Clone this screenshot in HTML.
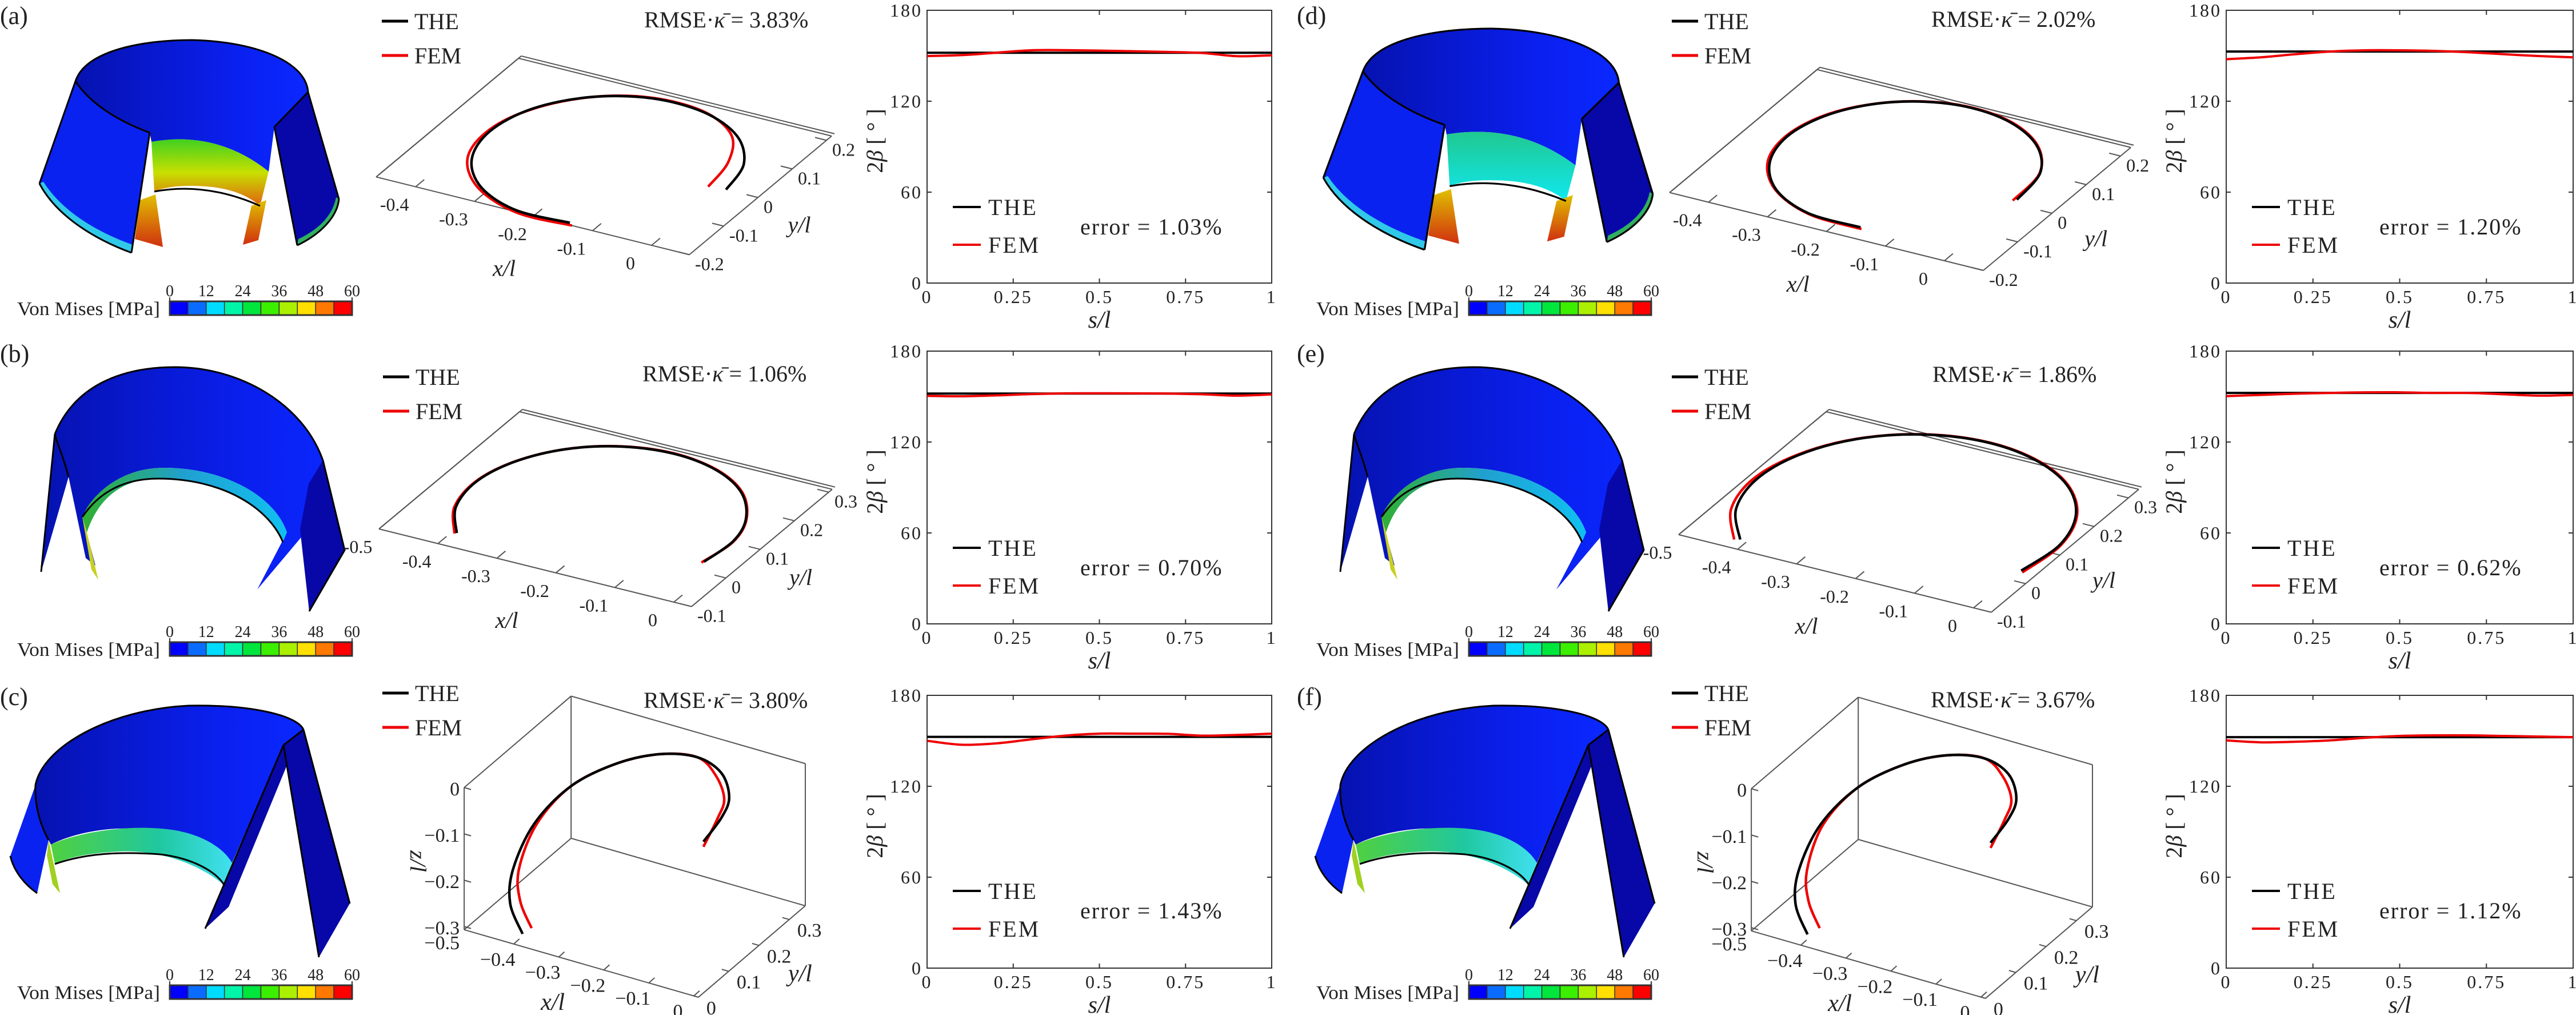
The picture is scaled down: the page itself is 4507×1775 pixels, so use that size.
<!DOCTYPE html>
<html><head><meta charset="utf-8"><title>Cylinder deformation comparison</title>
<style>
html,body{margin:0;padding:0;background:#fff;}
svg{display:block;}
svg text{font-family:"Liberation Serif","Times New Roman",serif;fill:#222;}
</style></head>
<body>
<svg id="fig" xmlns="http://www.w3.org/2000/svg" width="4507" height="1775" viewBox="0 0 4507 1775" font-family="Liberation Serif, serif">
<defs>
<linearGradient id="gA" x1="0" y1="0" x2="0" y2="1"><stop offset="0" stop-color="#40d020"/><stop offset="0.5" stop-color="#c8e000"/><stop offset="1" stop-color="#e06010"/></linearGradient>
<linearGradient id="gD" x1="0" y1="0" x2="0" y2="1"><stop offset="0" stop-color="#20c890"/><stop offset="1" stop-color="#10e8f0"/></linearGradient>
<linearGradient id="gB" x1="0" y1="0" x2="1" y2="0"><stop offset="0" stop-color="#30b030"/><stop offset="0.5" stop-color="#20a0d0"/><stop offset="1" stop-color="#10c0f0"/></linearGradient>
<linearGradient id="gC" x1="0" y1="0" x2="1" y2="0"><stop offset="0" stop-color="#50d040"/><stop offset="0.6" stop-color="#20c8a0"/><stop offset="1" stop-color="#40e0f0"/></linearGradient>
<linearGradient id="gO" x1="0" y1="0" x2="0" y2="1"><stop offset="0" stop-color="#e0c000"/><stop offset="1" stop-color="#d03010"/></linearGradient>
<linearGradient id="gBlue" x1="0" y1="0" x2="1" y2="0"><stop offset="0" stop-color="#0612b0"/><stop offset="0.7" stop-color="#0a20f0"/><stop offset="1" stop-color="#0a28ff"/></linearGradient>
</defs>
</svg>
<script>
// ---------------- data ----------------
const panelIds = ['a','b','c','d','e','f'];
const rmseLabels = ['3.83%','1.06%','3.80%','2.02%','1.86%','3.67%'];
const errorLabels = ['1.03%','0.70%','1.43%','1.20%','0.62%','1.12%'];
const sGrid = [0,0.1,0.2,0.3,0.4,0.5,0.6,0.7,0.8,0.9,1];
const theBeta = [152,152,152.6,152.8,152.4,152.4];
const femBetaA = [149.8,150.4,152.0,153.6,153.7,153.4,153.0,152.5,151.8,149.7,150.3];
const femBetaB = [150.5,150.2,150.8,151.6,152.1,152.2,152.1,152.0,151.5,150.6,151.4];
const femBetaC = [150.0,147.4,148.3,150.9,153.4,154.7,154.7,154.6,153.4,153.9,154.7];
const femBetaD = [147.7,149.0,151.0,152.8,153.6,153.6,153.2,152.3,151.0,149.8,149.0];
const femBetaE = [150.3,151.1,151.9,152.4,152.8,152.8,152.4,152.4,151.5,150.6,151.1];
const femBetaF = [150.3,149.0,149.4,150.3,152.0,153.2,153.6,153.6,153.2,152.8,152.4];
const sTicks = [0,0.25,0.5,0.75,1];
const sTickLabels = ['0','0.25','0.5','0.75','1'];
const betaTicks = [0,60,120,180];
const stressTicks = [0,12,24,36,48,60];
const stressColors = ['#0000ff','#0a6cff','#00dcff','#00f5a8','#00e63c','#3cee00','#aaf000','#ffe000','#ff7800','#ff0000'];
// 3D centre-lines (x/l, y/l[, z/l])
const theXA = [-0.142,-0.232,-0.313,-0.370,-0.390,-0.370,-0.313,-0.232,-0.142,-0.061,-0.007,0.010];
const theYA = [-0.194,-0.196,-0.158,-0.088,0,0.088,0.158,0.196,0.194,0.153,0.081,0];
const femXA = [-0.135,-0.228,-0.318,-0.378,-0.393,-0.368,-0.310,-0.230,-0.140,-0.068,-0.030,-0.018];
const femYA = [-0.200,-0.202,-0.160,-0.086,0.004,0.090,0.160,0.198,0.195,0.150,0.075,-0.004];
const theXB = [-0.392,-0.434,-0.447,-0.428,-0.381,-0.313,-0.232,-0.151,-0.083,-0.036,-0.018,-0.024];
const theYB = [-0.059,0.011,0.093,0.172,0.240,0.284,0.300,0.284,0.240,0.172,0.104,0.029];
const femXB = [-0.394,-0.436,-0.448,-0.428,-0.380,-0.312,-0.232,-0.150,-0.082,-0.035,-0.017,-0.026];
const femYB = [-0.062,0.010,0.093,0.173,0.241,0.285,0.301,0.285,0.241,0.172,0.102,0.025];
const theXC = [-0.147,-0.107,-0.083,-0.087,-0.127,-0.189,-0.264,-0.346,-0.408,-0.435,-0.428,-0.387];
const theYC = [0.25,0.25,0.24,0.22,0.20,0.17,0.14,0.11,0.08,0.05,0.03,0.01];
const theZC = [-0.155,-0.092,-0.036,0.027,0.061,0.067,0.043,-0.012,-0.094,-0.183,-0.244,-0.287];
const femXC = [-0.147,-0.116,-0.094,-0.100,-0.127,-0.189,-0.264,-0.346,-0.402,-0.422,-0.406,-0.367];
const femYC = [0.25,0.25,0.24,0.22,0.20,0.17,0.14,0.11,0.08,0.05,0.03,0.01];
const femZC = [-0.166,-0.097,-0.042,0.019,0.061,0.067,0.043,-0.012,-0.092,-0.179,-0.232,-0.269];
const theXD = [-0.162,-0.252,-0.331,-0.384,-0.400,-0.375,-0.315,-0.231,-0.142,-0.064,-0.013,-0.001];
const theYD = [-0.166,-0.163,-0.121,-0.048,0.040,0.127,0.194,0.228,0.221,0.176,0.102,0.013];
const femXD = [-0.158,-0.250,-0.333,-0.388,-0.402,-0.376,-0.314,-0.230,-0.140,-0.062,-0.013,-0.005];
const femYD = [-0.170,-0.165,-0.121,-0.047,0.042,0.128,0.195,0.229,0.222,0.176,0.100,0.008];
const theXE = [-0.412,-0.465,-0.485,-0.468,-0.418,-0.341,-0.248,-0.154,-0.071,-0.012,0.014,0.004];
const theYE = [-0.072,0.007,0.101,0.195,0.276,0.332,0.355,0.341,0.294,0.219,0.127,0.032];
const femXE = [-0.420,-0.472,-0.490,-0.470,-0.418,-0.340,-0.247,-0.153,-0.070,-0.010,0.016,0.008];
const femYE = [-0.076,0.005,0.100,0.195,0.277,0.333,0.356,0.342,0.295,0.219,0.126,0.028];
const theXF = [-0.147,-0.107,-0.083,-0.087,-0.127,-0.189,-0.264,-0.346,-0.410,-0.438,-0.432,-0.392];
const theYF = [0.25,0.25,0.24,0.22,0.20,0.17,0.14,0.11,0.08,0.05,0.03,0.01];
const theZF = [-0.155,-0.092,-0.036,0.027,0.061,0.067,0.043,-0.012,-0.094,-0.183,-0.244,-0.287];
const femXF = [-0.147,-0.116,-0.094,-0.100,-0.127,-0.189,-0.264,-0.346,-0.404,-0.420,-0.403,-0.365];
const femYF = [0.25,0.25,0.24,0.22,0.20,0.17,0.14,0.11,0.08,0.05,0.03,0.01];
const femZF = [-0.166,-0.097,-0.042,0.019,0.061,0.067,0.043,-0.012,-0.092,-0.179,-0.230,-0.266];
const topXTicksA = [-0.4,-0.3,-0.2,-0.1,0];
const topYTicksA = [-0.2,-0.1,0,0.1,0.2];
const topXTicksB = [-0.5,-0.4,-0.3,-0.2,-0.1,0];
const topYTicksB = [-0.1,0,0.1,0.2,0.3];
const iso3dXTicks = [-0.4,-0.3,-0.2,-0.1,0];
const iso3dYTicks = [0,0.1,0.2,0.3];
const iso3dZTicks = [0,-0.1,-0.2,-0.3];

// ---------------- helpers ----------------
const NS = 'http://www.w3.org/2000/svg';
const svg = document.getElementById('fig');
const SERIF = '"Liberation Serif", "Times New Roman", serif';
function add(parent, tag, attrs, name) {
  const el = document.createElementNS(NS, tag);
  for (const k in attrs) el.setAttribute(k, attrs[k]);
  
  
  parent.appendChild(el);
  return el;
}
function txt(parent, x, y, s, size, name, extra) {
  const t = add(parent, 'text', Object.assign({x: x, y: y, 'font-size': size, 'font-family': SERIF}, extra || {}), name);
  t.textContent = s;
  return t;
}
function fmt(v) { return (v < 0 ? '-' : '') + String(Math.abs(v)); }
// smooth path through projected points (Catmull-Rom -> Bezier)
function smoothPath(pts) {
  let d = 'M' + pts[0][0].toFixed(1) + ',' + pts[0][1].toFixed(1);
  for (let k = 0; k < pts.length - 1; k++) {
    const p0 = pts[k-1] || pts[k], p1 = pts[k], p2 = pts[k+1], p3 = pts[k+2] || pts[k+1];
    const c1 = [p1[0] + (p2[0]-p0[0])/6, p1[1] + (p2[1]-p0[1])/6];
    const c2 = [p2[0] - (p3[0]-p1[0])/6, p2[1] - (p3[1]-p1[1])/6];
    d += ' C' + c1[0].toFixed(1) + ',' + c1[1].toFixed(1) + ' ' + c2[0].toFixed(1) + ',' + c2[1].toFixed(1) + ' ' + p2[0].toFixed(1) + ',' + p2[1].toFixed(1);
  }
  return d;
}

const colX = [0, 2273];
const rowY = [0, 596, 1196];

// ---------------- cylinder drawings (decorative FEM renders) ----------------
const cylTemplates = {
  tall: [
    ['M132,142 C150,88 250,70 336,70 C440,72 535,105 539,161 L480,222 L470,300 Q380,228 265,248 L262,232 C215,215 160,185 132,142 Z', 'url(#gBlue)', 'cylinder-inner-back'],
    ['M265,248 Q380,228 470,300 L455,360 Q420,330 360,326 Q300,322 270,335 Z', 'BAND', 'cylinder-inner-band'],
    ['M245,350 L272,340 L285,432 L236,418 Z', 'url(#gO)', 'cylinder-inner-left-strip'],
    ['M440,360 L466,350 L452,420 L425,428 Z', 'url(#gO)', 'cylinder-inner-right-strip'],
    ['M132,142 C160,185 215,215 262,232 L230,442 C170,420 100,380 69,321 Z', '#0a22f0', 'cylinder-left-panel'],
    ['M69,321 C100,380 170,420 230,442 L232,428 C175,408 110,372 76,318 Z', '#30c8e8', 'cylinder-left-edge'],
    ['M539,161 L480,222 L520,429 C560,410 590,380 593,348 Z', '#0808a8', 'cylinder-right-panel'],
    ['M520,429 C560,410 590,380 593,348 L588,345 C582,378 556,402 522,418 Z', '#30b060', 'cylinder-right-edge']
  ],
  arch: [
    ['M96,163 C130,80 210,46 306,46 C420,46 530,110 565,209 L603,366 L541,473 L530,340 L450,435 L502,335 C480,270 390,222 287,222 C210,222 160,270 144,308 L167,393 L150,380 L120,238 L72,404 Z', 'url(#gBlue)', 'cylinder-arch-body'],
    ['M144,308 C160,270 210,222 287,222 C390,222 480,270 502,335 L495,352 C470,292 390,241 277,241 C210,241 170,280 152,335 Z', 'BAND', 'cylinder-inner-band'],
    ['M540,250 L565,209 L603,366 L541,473 L525,330 Z', '#0808a8', 'cylinder-right-panel'],
    ['M144,308 L152,335 L172,418 L160,400 Z', '#c8d020', 'cylinder-left-leg-edge']
  ],
  wide: [
    ['M62,177 C75,110 190,45 330,38 C440,36 520,55 531,80 L496,107 L406,313 C360,270 280,250 205,253 C150,256 110,270 89,281 L85,273 C60,240 55,210 62,177 Z', 'url(#gBlue)', 'cylinder-inner-back'],
    ['M89,281 C140,258 230,245 300,255 C350,262 390,285 406,313 L393,353 C350,315 280,290 210,293 C150,296 115,305 96,315 Z', 'BAND', 'cylinder-inner-band'],
    ['M62,177 C60,220 75,255 85,273 L65,366 C40,350 20,320 18,301 Z', '#0a22f0', 'cylinder-left-panel'],
    ['M85,273 L105,366 L92,350 L82,300 Z', '#a0d020', 'cylinder-left-leg'],
    ['M496,107 L512,118 L400,390 L359,428 Z', '#0808a8', 'cylinder-front-panel'],
    ['M496,107 L531,80 L612,384 L558,478 Z', '#0808a8', 'cylinder-right-panel']
  ]
};
const cylOutlines = {
  tall: ['M132,142 C150,88 250,70 336,70 C440,72 535,105 539,161', 'M132,142 C160,185 215,215 262,232', 'M480,222 L539,161', 'M262,232 L230,442', 'M480,222 L520,429', 'M270,335 Q360,318 455,360', 'M69,321 C100,380 170,420 230,442', 'M520,429 C560,410 590,380 593,348', 'M132,142 L69,321', 'M539,161 L593,348'],
  arch: ['M96,163 C130,80 210,46 306,46 C420,46 530,110 565,209', 'M144,308 C170,270 210,241 277,241 C390,241 470,292 495,352', 'M96,163 L72,404', 'M565,209 L603,366 L541,473', 'M120,238 C110,200 100,180 96,163'],
  wide: ['M62,177 C75,110 190,45 330,38 C440,36 520,55 531,80', 'M496,107 L531,80', 'M96,315 C150,296 210,293 280,298 C340,305 380,330 393,353', 'M496,107 L359,428', 'M496,107 L558,478', 'M531,80 L612,384', 'M62,177 C60,220 75,255 85,273', 'M18,301 C25,330 45,352 65,366']
};
const cylSpecs = [
  {t:'tall', band:'url(#gA)', tf:''},
  {t:'arch', band:'url(#gB)', tf:''},
  {t:'wide', band:'url(#gC)', tf:''},
  {t:'tall', band:'url(#gD)', tf:'translate(336,0) scale(1.1,1.04) translate(-336,-22)'},
  {t:'arch', band:'url(#gB)', tf:''},
  {t:'wide', band:'url(#gC)', tf:'translate(10,0)'}
];

// ---------------- panel geometry (layout, not data) ----------------
const topViews = {
  a: {O:[1260,329], xlim:[-0.467,0.064], ylim:[-0.2,0.215], xt:topXTicksA, yt:topYTicksA, the:[theXA,theYA], fem:[femXA,femYA]},
  b: {O:[1239,407], xlim:[-0.5,0.03], ylim:[-0.1,0.31], xt:topXTicksB, yt:topYTicksB, the:[theXB,theYB], fem:[femXB,femYB]},
  d: {O:[1249,356], xlim:[-0.466,0.066], ylim:[-0.2,0.23], xt:topXTicksA, yt:topYTicksA, the:[theXD,theYD], fem:[femXD,femYD]},
  e: {O:[1240,417], xlim:[-0.5,0.03], ylim:[-0.1,0.33], xt:topXTicksB, yt:topYTicksB, the:[theXE,theYE], fem:[femXE,femYE]}
};
const isoViews = {
  c: {O:[1214,297], the:[theXC,theYC,theZC], fem:[femXC,femYC,femZC]},
  f: {O:[1193,299], the:[theXF,theYF,theZF], fem:[femXF,femYF,femZF]}
};
const legend3d = {a:[668,37,1127,48], b:[670,63,1124,71], c:[669,16,1126,42], d:[652,37,1106,47], e:[652,63,1108,72], f:[652,16,1105,41]};
const femBetaAll = [femBetaA, femBetaB, femBetaC, femBetaD, femBetaE, femBetaF];

function legendBlock(g, x, y, id) {
  add(g, 'line', {x1:x, y1:y, x2:x+46, y2:y, stroke:'#000', 'stroke-width':5}, 'legend-the-line-'+id);
  txt(g, x+57, y+14, 'THE', 40, 'legend-the-label-'+id);
  add(g, 'line', {x1:x, y1:y+60, x2:x+46, y2:y+60, stroke:'#e00', 'stroke-width':5}, 'legend-fem-line-'+id);
  txt(g, x+57, y+74, 'FEM', 40, 'legend-fem-label-'+id);
}

panelIds.forEach(function(id, i) {
  const col = i < 3 ? 0 : 1;
  const row = i % 3;
  const g = add(svg, 'g', {transform: 'translate(' + colX[col] + ',' + rowY[row] + ')'}, 'panel-' + id);

  txt(g, col === 0 ? 0 : -4, row === 0 ? 42 : 37, '(' + id + ')', 44, 'panel-letter-' + id);

  // cylinder render
  const spec = cylSpecs[i];
  const cg = add(g, 'g', {transform: spec.tf}, 'fem-render-' + id);
  cylTemplates[spec.t].forEach(function(p) {
    add(cg, 'path', {d: p[0], fill: p[1] === 'BAND' ? spec.band : p[1]}, p[2]);
  });
  cylOutlines[spec.t].forEach(function(d) {
    add(cg, 'path', {d: d, fill: 'none', stroke: '#000', 'stroke-width': 3}, 'cylinder-outline');
  });

  // colorbar
  const cb = add(g, 'g', {}, 'colorbar-' + id);
  const cbx0 = 297, cbx1 = 616, cby = 527, cbh = 24;
  const cw = (cbx1 - cbx0) / stressColors.length;
  stressColors.forEach(function(c, k) {
    add(cb, 'rect', {x: cbx0 + k*cw, y: cby, width: cw, height: cbh, fill: c, stroke: '#333', 'stroke-width': 1.5}, 'colorbar-cell');
  });
  add(cb, 'rect', {x: cbx0, y: cby, width: cbx1-cbx0, height: cbh, fill: 'none', stroke: '#333', 'stroke-width': 3}, 'colorbar-frame');
  stressTicks.forEach(function(v) {
    const x = cbx0 + (v/60)*(cbx1-cbx0);
    txt(cb, x, 518, String(v), 28, 'colorbar-tick-label', {'text-anchor':'middle'});
  });
  add(cb, 'line', {x1:cbx0, y1:520, x2:cbx0, y2:cby, stroke:'#333', 'stroke-width':2}, 'colorbar-tick');
  add(cb, 'line', {x1:cbx1, y1:520, x2:cbx1, y2:cby, stroke:'#333', 'stroke-width':2}, 'colorbar-tick');
  txt(cb, 30, 551, 'Von Mises [MPa]', 34, 'colorbar-title', {textLength: 250, lengthAdjust: 'spacingAndGlyphs'});

  // 3D curve plot
  const lg = legend3d[id];
  const pg = add(g, 'g', {}, 'curve-3d-plot-' + id);
  legendBlock(pg, lg[0], lg[1], id);
  const rt = add(pg, 'text', {x: lg[2], y: lg[3], 'font-size': 40, 'font-family': SERIF}, 'rmse-label-' + id);
  rt.innerHTML = 'RMSE·<tspan font-style="italic">κ̄</tspan> = ' + rmseLabels[i];

  if (topViews[id]) {
    const V = topViews[id];
    const ex = [1032, 256], ey = [600, -500];
    const P = function(x, y) { return [V.O[0] + x*ex[0] + y*ey[0], V.O[1] + x*ex[1] + y*ey[1]]; };
    const Lc = P(V.xlim[0], V.ylim[0]), Fc = P(V.xlim[1], V.ylim[0]), Rc = P(V.xlim[1], V.ylim[1]), Kc = P(V.xlim[0], V.ylim[1]);
    const ln = function(a, b, nm, dx, dy) {
      add(pg, 'line', {x1:a[0]+(dx||0), y1:a[1]+(dy||0), x2:b[0]+(dx||0), y2:b[1]+(dy||0), stroke:'#555', 'stroke-width':2}, nm);
    };
    ln(Lc, Fc, 'x-axis-line');
    ln(Fc, Rc, 'y-axis-line');
    ln(Lc, Kc, 'box-back-edge');
    ln(Kc, Rc, 'box-back-edge');
    ln(Lc, Kc, 'box-back-edge-top', 5, -4);
    ln(Kc, Rc, 'box-back-edge-top', 5, -4);
    V.xt.forEach(function(v) {
      const p = P(v, V.ylim[0]);
      add(pg, 'line', {x1:p[0], y1:p[1], x2:p[0]+15, y2:p[1]-12.5, stroke:'#555', 'stroke-width':2}, 'x-tick');
      txt(pg, p[0]-37, p[1]+42, fmt(v), 32, 'x-tick-label', {'text-anchor':'middle'});
    });
    V.yt.forEach(function(v) {
      const p = P(V.xlim[1], v);
      add(pg, 'line', {x1:p[0], y1:p[1], x2:p[0]-20, y2:p[1]-5, stroke:'#555', 'stroke-width':2}, 'y-tick');
      txt(pg, p[0]+10, p[1]+27, fmt(v), 32, 'y-tick-label');
    });
    const mx = [(Lc[0]+Fc[0])/2, (Lc[1]+Fc[1])/2];
    txt(pg, mx[0]-50, mx[1]+105, 'x/l', 40, 'x-axis-title', {'font-style':'italic', 'text-anchor':'middle'});
    const my = [(Fc[0]+Rc[0])/2, (Fc[1]+Rc[1])/2];
    txt(pg, my[0]+68, my[1]+65, 'y/l', 40, 'y-axis-title', {'font-style':'italic', 'text-anchor':'middle'});
    [['fem', '#e00'], ['the', '#000']].forEach(function(s) {
      const xs = V[s[0]][0], ys = V[s[0]][1];
      const pts = xs.map(function(x, k) { return P(x, ys[k]); });
      add(pg, 'path', {d: smoothPath(pts), fill: 'none', stroke: s[1], 'stroke-width': 4.5, 'stroke-linejoin': 'round'}, 'curve-' + s[0] + '-' + id);
    });
  } else {
    const V = isoViews[id];
    const ex = [788, 227], ey = [530, -453], ez = [0, -810];
    const xl = [-0.51, 0.01], yl = [0, 0.353], zl = [-0.307, 0];
    const P = function(x, y, z) { return [V.O[0] + x*ex[0] + y*ey[0] + z*ez[0], V.O[1] + x*ex[1] + y*ey[1] + z*ez[1]]; };
    const ln = function(a, b, nm) { add(pg, 'line', {x1:a[0], y1:a[1], x2:b[0], y2:b[1], stroke:'#555', 'stroke-width':2}, nm); };
    ln(P(xl[0],yl[0],zl[0]), P(xl[0],yl[0],zl[1]), 'z-axis-line');
    ln(P(xl[0],yl[1],zl[0]), P(xl[0],yl[1],zl[1]), 'box-back-vertical');
    ln(P(xl[1],yl[1],zl[0]), P(xl[1],yl[1],zl[1]), 'box-right-vertical');
    ln(P(xl[0],yl[0],zl[1]), P(xl[0],yl[1],zl[1]), 'box-top-edge');
    ln(P(xl[0],yl[1],zl[1]), P(xl[1],yl[1],zl[1]), 'box-top-edge');
    ln(P(xl[0],yl[0],zl[0]), P(xl[0],yl[1],zl[0]), 'box-bottom-edge');
    ln(P(xl[0],yl[1],zl[0]), P(xl[1],yl[1],zl[0]), 'box-bottom-edge');
    ln(P(xl[0],yl[0],zl[0]), P(xl[1],yl[0],zl[0]), 'x-axis-line');
    ln(P(xl[1],yl[0],zl[0]), P(xl[1],yl[1],zl[0]), 'y-axis-line');
    iso3dZTicks.forEach(function(v) {
      const p = P(xl[0], yl[0], v);
      add(pg, 'line', {x1:p[0], y1:p[1], x2:p[0]+12, y2:p[1]+3.5, stroke:'#555', 'stroke-width':2}, 'z-tick');
      txt(pg, p[0]-8, p[1]+14, v === 0 ? '0' : '\u2212' + String(Math.abs(v)), 34, 'z-tick-label', {'text-anchor':'end'});
    });
    const lc = P(xl[0], yl[0], zl[0]);
    txt(pg, lc[0]-8, lc[1]+34, '\u22120.5', 34, 'x-tick-label', {'text-anchor':'end'});
    iso3dXTicks.forEach(function(v) {
      const p = P(v, yl[0], zl[0]);
      add(pg, 'line', {x1:p[0], y1:p[1], x2:p[0]+10, y2:p[1]-9, stroke:'#555', 'stroke-width':2}, 'x-tick');
      txt(pg, p[0]-28, p[1]+38, v === 0 ? '0' : '\u2212' + String(Math.abs(v)), 34, 'x-tick-label', {'text-anchor':'middle'});
    });
    iso3dYTicks.forEach(function(v) {
      const p = P(xl[1], v, zl[0]);
      add(pg, 'line', {x1:p[0], y1:p[1], x2:p[0]-12, y2:p[1]-3.5, stroke:'#555', 'stroke-width':2}, 'y-tick');
      txt(pg, p[0]+14, p[1]+30, String(v), 34, 'y-tick-label');
    });
    const zt = add(pg, 'text', {x: 0, y: 0, 'font-size': 40, 'font-family': SERIF, 'font-style': 'italic', 'text-anchor': 'middle', transform: 'translate(' + (lc[0]-94) + ',' + (lc[1]-120) + ') rotate(90)'}, 'z-axis-title');
    zt.textContent = 'z/l';
    txt(pg, lc[0]+155, lc[1]+140, 'x/l', 42, 'x-axis-title', {'font-style':'italic', 'text-anchor':'middle'});
    const fr = P(xl[1], yl[0], zl[0]);
    txt(pg, fr[0]+178, fr[1]-28, 'y/l', 42, 'y-axis-title', {'font-style':'italic', 'text-anchor':'middle'});
    [['fem', '#e00'], ['the', '#000']].forEach(function(s) {
      const xs = V[s[0]][0], ys = V[s[0]][1], zs = V[s[0]][2];
      const pts = xs.map(function(x, k) { return P(x, ys[k], zs[k]); });
      add(pg, 'path', {d: smoothPath(pts), fill: 'none', stroke: s[1], 'stroke-width': 4.5, 'stroke-linejoin': 'round'}, 'curve-' + s[0] + '-' + id);
    });
  }

  // 2D beta plot
  const L = 1622, R = col === 0 ? 2225 : 2229, T = row === 2 ? 20 : 18, B = row === 2 ? 497 : 495;
  const sx = function(s) { return L + s*(R-L); };
  const sy = function(v) { return B - v/180*(B-T); };
  const bg = add(g, 'g', {}, 'beta-plot-' + id);
  add(bg, 'rect', {x:L, y:T, width:R-L, height:B-T, fill:'none', stroke:'#333', 'stroke-width':2}, 'plot-frame');
  sTicks.forEach(function(s, k) {
    add(bg, 'line', {x1:sx(s), y1:B, x2:sx(s), y2:B-8, stroke:'#333', 'stroke-width':2}, 'x-tick');
    add(bg, 'line', {x1:sx(s), y1:T, x2:sx(s), y2:T+8, stroke:'#333', 'stroke-width':2}, 'x-tick');
    txt(bg, sx(s), B+35, sTickLabels[k], 32, 'x-tick-label', {'text-anchor':'middle', 'letter-spacing': 3});
  });
  betaTicks.forEach(function(v) {
    add(bg, 'line', {x1:L, y1:sy(v), x2:L+8, y2:sy(v), stroke:'#333', 'stroke-width':2}, 'y-tick');
    add(bg, 'line', {x1:R, y1:sy(v), x2:R-8, y2:sy(v), stroke:'#333', 'stroke-width':2}, 'y-tick');
    txt(bg, L-8, sy(v)+11, String(v), 32, 'y-tick-label', {'text-anchor':'end', 'letter-spacing': 3});
  });
  txt(bg, (L+R)/2, B+78, 's/l', 42, 'x-axis-title', {'font-style':'italic', 'text-anchor':'middle'});
  const yt = add(bg, 'text', {x:0, y:0, 'font-size':40, 'font-family': SERIF, 'text-anchor':'middle', transform:'translate(' + (L-78) + ',' + ((T+B)/2 - 10) + ') rotate(-90)'}, 'y-axis-title');
  yt.innerHTML = '2<tspan font-style="italic">β</tspan> [ ° ]';
  add(bg, 'line', {x1:sx(0), y1:sy(theBeta[i]), x2:sx(1), y2:sy(theBeta[i]), stroke:'#000', 'stroke-width':4}, 'series-the-' + id);
  const fpts = sGrid.map(function(s, k) { return [sx(s), sy(femBetaAll[i][k])]; });
  add(bg, 'path', {d: smoothPath(fpts), fill:'none', stroke:'#e00', 'stroke-width':4}, 'series-fem-' + id);
  add(bg, 'line', {x1:1667, y1:362, x2:1716, y2:362, stroke:'#000', 'stroke-width':4}, 'legend-the-line');
  txt(bg, 1729, 376, 'THE', 40, 'legend-the-label', {'letter-spacing': 3});
  add(bg, 'line', {x1:1667, y1:428, x2:1716, y2:428, stroke:'#e00', 'stroke-width':4}, 'legend-fem-line');
  txt(bg, 1729, 442, 'FEM', 40, 'legend-fem-label', {'letter-spacing': 3});
  txt(bg, 1890, 410, 'error = ' + errorLabels[i], 40, 'error-label-' + id, {'letter-spacing': 2});
});
</script>
</body></html>
